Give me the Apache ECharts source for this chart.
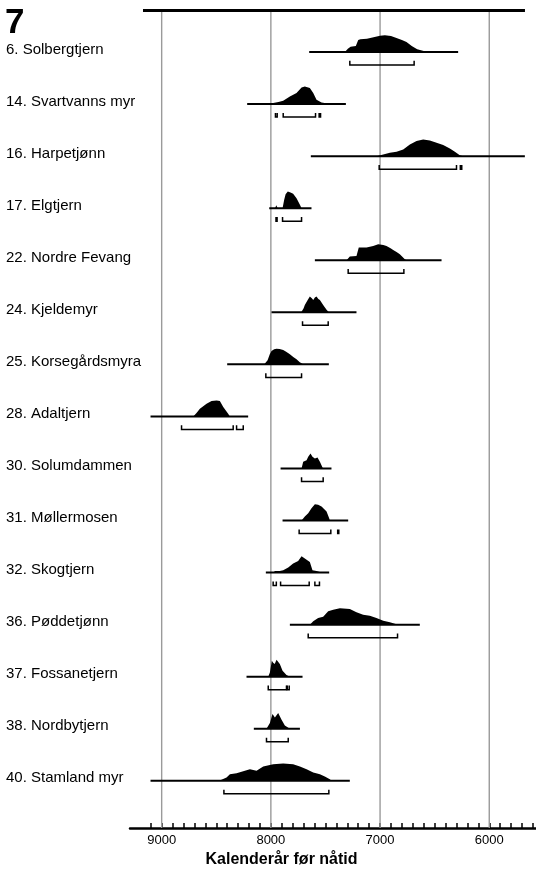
<!DOCTYPE html>
<html>
<head>
<meta charset="utf-8">
<script src="https://cdn.jsdelivr.net/npm/echarts@6/dist/echarts.min.js"></script>
<style>
  html, body { margin: 0; padding: 0; background: #fff; }
  #chart { width: 536px; height: 873px; }
</style>
</head>
<body>
<div id="chart"></div>
<script>
// Sites, top to bottom
const sites = [
  '6. Solbergtjern',
  '14. Svartvanns myr',
  '16. Harpetjønn',
  '17. Elgtjern',
  '22. Nordre Fevang',
  '24. Kjeldemyr',
  '25. Korsegårdsmyra',
  '28. Adaltjern',
  '30. Solumdammen',
  '31. Møllermosen',
  '32. Skogtjern',
  '36. Pøddetjønn',
  '37. Fossanetjern',
  '38. Nordbytjern',
  '40. Stamland myr'
];

// Extent of each calibrated curve (cal BP, older -> younger)
const spans = [
  [7649, 6285], [8217, 7313], [7634, 5674], [8015, 7628], [7597, 6437],
  [7994, 7216], [8400, 7469], [9102, 8208], [7911, 7445], [7893, 7292],
  [8046, 7466], [7826, 6636], [8223, 7710], [8156, 7734], [9102, 7277]
];

// Calibrated probability distributions: [cal BP, relative probability]
const densities = [
  [[7322,0],[7295,10],[7270,16],[7222,18],[7200,36],[7180,38],[7120,40],[7060,44],[7000,49],[6956,50],[6900,48],[6850,42],[6800,36],[6758,30],[6710,18],[6660,8],[6600,3],[6575,0]],
  [[7990,0],[7979,3],[7930,6],[7887,10],[7826,23],[7765,33],[7719,50],[7689,53],[7643,48],[7612,33],[7582,13],[7536,5],[7480,2],[7429,0]],
  [[7033,0],[6971,5],[6910,10],[6849,13],[6788,20],[6727,35],[6666,45],[6605,50],[6544,47],[6483,40],[6422,33],[6361,23],[6315,13],[6270,3],[6239,0]],
  [[7962,0],[7950,9],[7938,0],[7893,0],[7878,25],[7865,42],[7845,50],[7820,47],[7796,43],[7765,30],[7734,10],[7719,0]],
  [[7307,0],[7277,11],[7216,13],[7195,38],[7124,38],[7063,43],[7017,48],[6970,46],[6941,43],[6900,35],[6880,31],[6849,25],[6819,18],[6773,3],[6758,0]],
  [[7722,0],[7700,12],[7689,22],[7660,38],[7643,47],[7625,42],[7612,37],[7597,44],[7582,47],[7565,40],[7551,37],[7521,22],[7490,8],[7469,0]],
  [[8060,0],[8030,12],[8010,30],[7994,40],[7970,45],[7948,47],[7920,46],[7887,43],[7860,38],[7826,30],[7795,22],[7765,15],[7735,6],[7704,0]],
  [[8711,0],[8681,10],[8650,23],[8589,38],[8543,46],[8497,48],[8467,46],[8436,28],[8391,8],[8375,0]],
  [[7719,0],[7704,20],[7673,25],[7658,35],[7637,45],[7619,35],[7597,30],[7573,33],[7551,20],[7527,3],[7521,0]],
  [[7719,0],[7689,12],[7658,22],[7628,37],[7597,49],[7567,47],[7536,42],[7490,27],[7466,7],[7460,0]],
  [[7975,0],[7963,5],[7948,5],[7918,5],[7887,7],[7841,15],[7796,27],[7750,35],[7719,49],[7689,42],[7643,32],[7619,7],[7582,5],[7536,0]],
  [[7643,0],[7612,10],[7567,20],[7521,24],[7475,40],[7429,45],[7368,49],[7277,47],[7216,37],[7155,30],[7094,27],[7033,20],[6971,12],[6910,7],[6834,0]],
  [[8024,0],[8009,13],[7991,48],[7979,42],[7965,38],[7948,51],[7918,38],[7893,18],[7857,5],[7826,0]],
  [[8040,0],[8009,17],[7985,44],[7963,34],[7933,47],[7902,27],[7872,10],[7826,0]],
  [[8473,0],[8406,10],[8375,20],[8314,23],[8238,30],[8192,35],[8131,30],[8070,43],[7979,50],[7887,52],[7796,50],[7734,43],[7673,35],[7612,25],[7551,20],[7506,13],[7460,5],[7445,0]]
];

// 2-sigma calibrated ranges (cal BP, from -> to)
const ranges = [
  [[7277, 6688]],
  [[7958, 7942], [7887, 7591], [7558, 7545]],
  [[7008, 6300], [6265, 6252]],
  [[7953, 7943], [7893, 7719]],
  [[7292, 6782]],
  [[7710, 7475]],
  [[8046, 7719]],
  [[8818, 8345], [8314, 8253]],
  [[7719, 7521]],
  [[7741, 7451], [7388, 7378]],
  [[7979, 7950], [7911, 7649], [7597, 7555]],
  [[7658, 6840]],
  [[8024, 7857], [7850, 7832]],
  [[8040, 7841]],
  [[8430, 7469]]
];

// Axis
const yearLabels = [9000, 8000, 7000, 6000];
const gridYears = [9000, 8000, 7000, 6000];
const frameTop = [[9171, 5673]];
const tickYears = [];
for (let y = 5600; y <= 9100; y += 100) tickYears.push(y);

const X_MIN = 5572, X_MAX = 9290;
const Y_MIN = -0.807, Y_MAX = 14.906;
const DENSITY_SCALE = 1 / 156;   // rows per unit of relative probability
const TICK_TOP = 0.17;           // bracket end ticks, in rows below the baseline
const BRACKET_DROP = 0.25;       // bracket bar, in rows below the baseline
const FONT = '"Liberation Sans", Arial, Helvetica, sans-serif';

const rowData = sites.map((_, i) => [i]);

function renderGrid(params, api) {
  const yr = api.value(0);
  const a = api.coord([yr, Y_MIN]);
  const b = api.coord([yr, Y_MAX]);
  return { type: 'line', shape: { x1: a[0], y1: a[1], x2: b[0], y2: b[1] },
           style: { stroke: '#9a9a9a', lineWidth: 1.4 } };
}

function renderFrame(params, api) {
  const a = api.coord([api.value(0), Y_MIN]);
  const b = api.coord([api.value(1), Y_MIN]);
  return { type: 'line', shape: { x1: a[0], y1: a[1] + 0.5, x2: b[0], y2: b[1] + 0.5 },
           style: { stroke: '#000', lineWidth: 3 } };
}

function renderLikelihood(params, api) {
  const r = api.value(0);
  const span = spans[r];
  const a = api.coord([span[0], r]);
  const b = api.coord([span[1], r]);
  const pts = densities[r].map(([yr, d]) => api.coord([yr, r - d * DENSITY_SCALE]));
  return {
    type: 'group',
    children: [
      { type: 'polygon', shape: { points: pts }, style: { fill: '#000' } },
      { type: 'line', shape: { x1: a[0], y1: a[1], x2: b[0], y2: b[1] },
        style: { stroke: '#000', lineWidth: 2 } }
    ]
  };
}

function renderRanges(params, api) {
  const r = api.value(0);
  const children = ranges[r].map(([from, to]) => {
    const p0 = api.coord([from, r + TICK_TOP]);
    const p1 = api.coord([from, r + BRACKET_DROP]);
    const p2 = api.coord([to, r + BRACKET_DROP]);
    const p3 = api.coord([to, r + TICK_TOP]);
    return { type: 'polyline', shape: { points: [p0, p1, p2, p3] },
             style: { stroke: '#000', lineWidth: 1.5, fill: null } };
  });
  return { type: 'group', children };
}

const chart = echarts.init(document.getElementById('chart'), null, { renderer: 'canvas' });
chart.setOption({
  animation: false,
  backgroundColor: '#fff',
  title: {
    text: '7', left: 5, top: 6, padding: 0,
    textStyle: { fontSize: 35, fontWeight: 'bold', color: '#000', fontFamily: FONT }
  },
  grid: { left: 130, right: 0, top: 10, bottom: 45, containLabel: false },
  xAxis: {
    type: 'value', inverse: true, min: X_MIN, max: X_MAX, position: 'bottom',
    axisLine: { show: true, onZero: false, lineStyle: { color: '#000', width: 2.5 } },
    axisTick: { show: true, inside: true, length: 5, customValues: tickYears,
                lineStyle: { color: '#000', width: 1.5 } },
    axisLabel: { customValues: yearLabels, formatter: v => String(v), margin: 6,
                 fontSize: 13, color: '#000', fontFamily: FONT },
    splitLine: { show: false },
    name: 'Kalenderår før nåtid', nameLocation: 'middle', nameGap: 14,
    nameTextStyle: { fontSize: 16, fontWeight: 'bold', color: '#000', fontFamily: FONT,
                     padding: [0, 103, 0, 0] }
  },
  yAxis: {
    type: 'value', inverse: true, min: Y_MIN, max: Y_MAX,
    axisLine: { show: false }, axisTick: { show: false }, splitLine: { show: false },
    axisLabel: {
      customValues: sites.map((_, i) => i),
      formatter: v => sites[Math.round(v)] || '',
      align: 'left', margin: 124, fontSize: 15, color: '#000', fontFamily: FONT,
      verticalAlign: 'bottom', lineHeight: 5
    }
  },
  series: [
    { type: 'custom', name: 'grid', renderItem: renderGrid, data: gridYears.map(y => [y]),
      encode: { x: 0 }, clip: false, silent: true, z: 1 },
    { type: 'custom', name: 'frame', renderItem: renderFrame, data: frameTop,
      encode: { x: [0, 1] }, clip: false, silent: true, z: 2 },
    { type: 'custom', name: 'likelihood', renderItem: renderLikelihood, data: rowData,
      encode: { y: 0 }, clip: false, z: 3 },
    { type: 'custom', name: 'ranges', renderItem: renderRanges, data: rowData,
      encode: { y: 0 }, clip: false, z: 3 }
  ]
});
</script>
</body>
</html>
